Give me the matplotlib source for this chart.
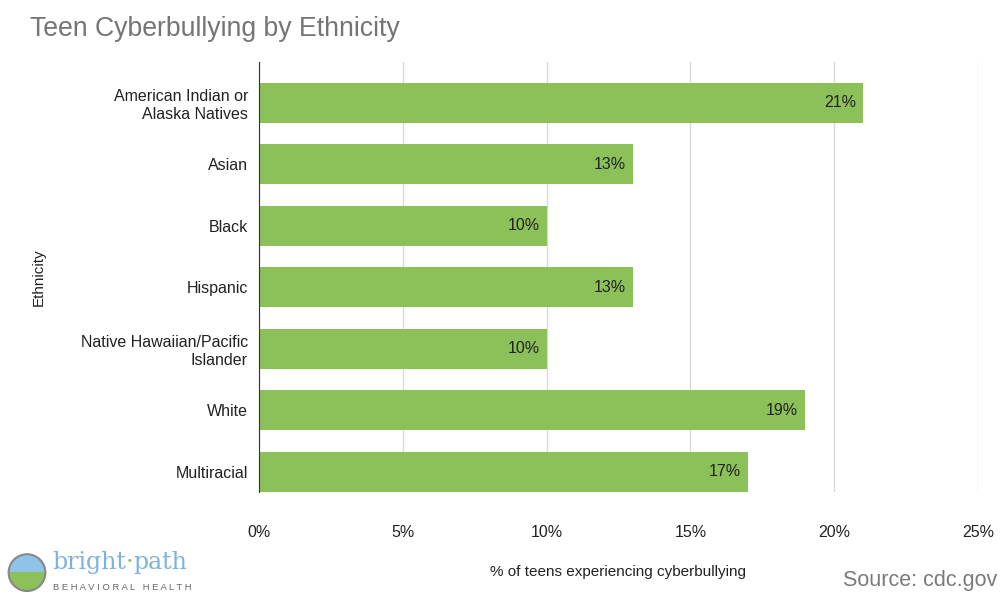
import matplotlib.pyplot as plt
from matplotlib.patches import Circle, Wedge
from matplotlib.ticker import FuncFormatter

plt.rcParams['font.family'] = ['Liberation Sans', 'DejaVu Sans']

# data
groups = ['American Indian or\nAlaska Natives', 'Asian', 'Black', 'Hispanic',
          'Native Hawaiian/Pacific\nIslander', 'White', 'Multiracial']
pct = [21, 13, 10, 13, 10, 19, 17]
bar_color = '#8cc058'

fig = plt.figure(figsize=(10, 5.94), dpi=100)
ax = fig.add_axes([0.259, 0.172, 0.719, 0.724])

ypos = list(range(len(groups)))
ax.barh(ypos, pct, height=0.65, color=bar_color, zorder=3)
for y, v in zip(ypos, pct):
    ax.text(v - 0.25, y, f'{v}%', ha='right', va='center', fontsize=11.5,
            color='#222222', zorder=4)

ax.set_xlim(0, 25)
ax.set_ylim(6.33, -0.67)
ax.set_yticks(ypos)
ax.set_yticklabels(groups, fontsize=11.5, color='#222222')
ax.set_xticks([0, 5, 10, 15, 20, 25])
ax.xaxis.set_major_formatter(FuncFormatter(lambda v, p: f'{int(v)}%'))
ax.tick_params(axis='x', length=0, pad=24, labelsize=11.5, labelcolor='#222222')
ax.tick_params(axis='y', length=0, pad=8)
ax.grid(axis='x', color='#d9d9d9', linewidth=1, zorder=0)
for s in ['top', 'right', 'bottom']:
    ax.spines[s].set_visible(False)
ax.spines['left'].set_color('#333333')
ax.spines['left'].set_zorder(5)

ax.set_xlabel('% of teens experiencing cyberbullying', fontsize=11,
              color='#222222', labelpad=18)
ax.set_ylabel('Ethnicity', fontsize=11, color='#222222', labelpad=25)

fig.text(0.03, 0.952, 'Teen Cyberbullying by Ethnicity', fontsize=19.2,
         color='#757575', va='center', ha='left')
fig.text(0.997, 0.005, 'Source: cdc.gov', fontsize=15.5, color='#7a7a7a',
         ha='right', va='bottom')

# logo
lax = fig.add_axes([0.006, 0.002, 0.042, 0.068])
lax.set_xlim(-1.1, 1.1)
lax.set_ylim(-1.1, 1.1)
lax.set_aspect('equal')
lax.axis('off')
lax.add_patch(Wedge((0, 0), 1, 0, 180, color='#8fc3e8'))
lax.add_patch(Wedge((0, 0), 1, 180, 360, color='#8cc058'))
lax.add_patch(Circle((0, 0), 1, fill=False, ec='#888888', lw=1.5))

renderer = fig.canvas.get_renderer()
t1 = fig.text(0.052, 0.034, 'bright', fontsize=17, color='#7ab3e0',
              family='DejaVu Serif', va='bottom')
x = t1.get_window_extent(renderer).x1 / fig.bbox.width
t2 = fig.text(x, 0.034, '·', fontsize=17, color='#8cc058',
              family='DejaVu Serif', va='bottom')
x = t2.get_window_extent(renderer).x1 / fig.bbox.width
fig.text(x, 0.034, 'path', fontsize=17, color='#7ab3e0',
         family='DejaVu Serif', va='bottom')
fig.text(0.053, 0.004, 'B E H A V I O R A L   H E A L T H', fontsize=6.8,
         color='#666666', va='bottom')

fig.savefig('out.png', dpi=100)
